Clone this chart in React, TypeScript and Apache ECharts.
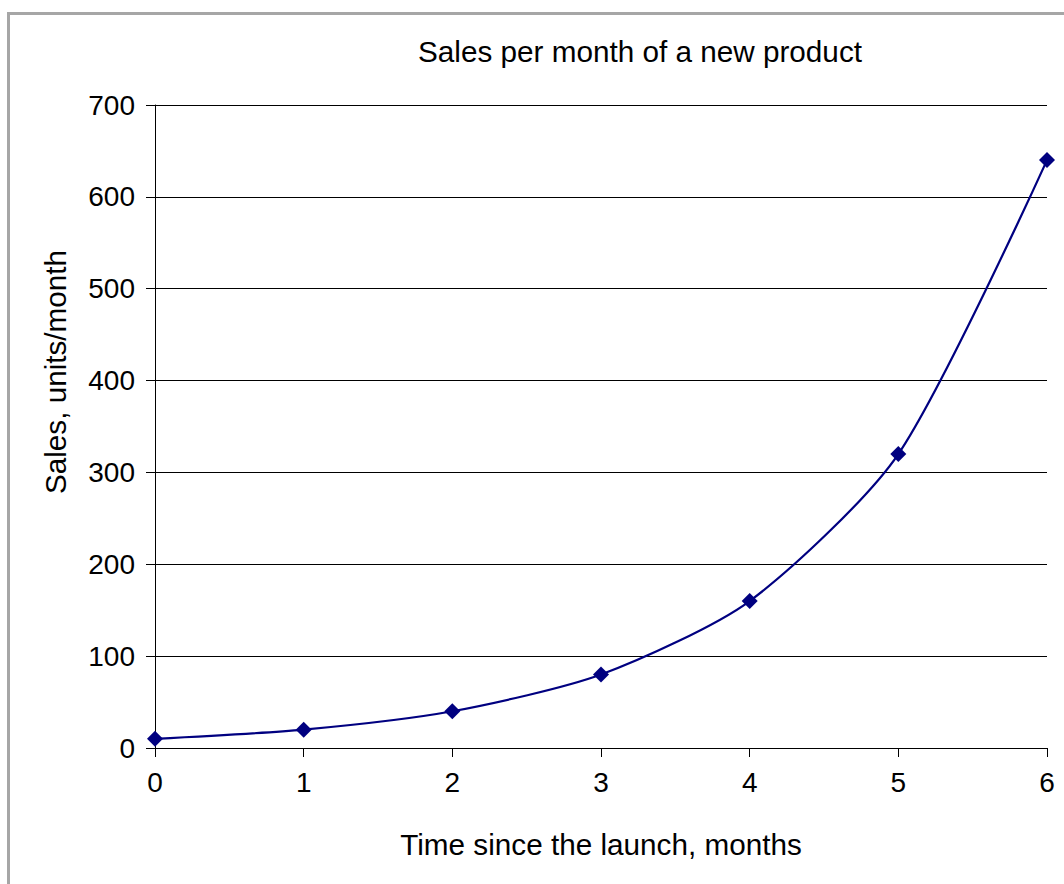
import React, { useEffect, useRef } from "react";
import * as echarts from "echarts";

const months = [0, 1, 2, 3, 4, 5, 6];
const sales = [10, 20, 40, 80, 160, 320, 640];
const title = "Sales per month of a new product";
const xName = "Time since the launch, months";
const yName = "Sales, units/month";

export default function App() {
  const ref = useRef<HTMLDivElement>(null);
  useEffect(() => {
    if (!ref.current) return;
    const chart = echarts.init(ref.current, null, { renderer: "svg" });
    const font = "'Liberation Sans', Arial, sans-serif";
    chart.setOption({
      animation: false,
      backgroundColor: "#ffffff",
      textStyle: { fontFamily: font },
      graphic: [
        {
          type: "rect",
          shape: { x: 8.5, y: 13.5, width: 1200, height: 1000 },
          style: { fill: "none", stroke: "#a6a6a6", lineWidth: 3 },
          silent: true,
        },
        {
          type: "text",
          x: 640,
          y: 51,
          style: {
            text: title,
            font: `29.7px ${font}`,
            fill: "#000",
            textAlign: "center",
            textVerticalAlign: "middle",
          },
        },
        {
          type: "text",
          x: 55,
          y: 372,
          rotation: Math.PI / 2,
          style: {
            text: yName,
            font: `29.7px ${font}`,
            fill: "#000",
            textAlign: "center",
            textVerticalAlign: "middle",
          },
        },
        {
          type: "text",
          x: 601,
          y: 844,
          style: {
            text: xName,
            font: `29.7px ${font}`,
            fill: "#000",
            textAlign: "center",
            textVerticalAlign: "middle",
          },
        },
      ],
      grid: { left: 155, right: 17, top: 105, bottom: 136 },
      xAxis: {
        type: "value",
        min: 0,
        max: 6,
        interval: 1,
        axisLine: { show: true, lineStyle: { color: "#000", width: 1 } },
        axisTick: { show: true, length: 9, lineStyle: { color: "#000" } },
        axisLabel: { color: "#000", fontSize: 28, margin: 20, fontFamily: font },
        splitLine: { show: false },
      },
      yAxis: {
        type: "value",
        min: 0,
        max: 700,
        interval: 100,
        axisLine: { show: true, lineStyle: { color: "#000", width: 1 } },
        axisTick: { show: true, length: 9, lineStyle: { color: "#000" } },
        axisLabel: { color: "#000", fontSize: 28, margin: 20, fontFamily: font },
        splitLine: { show: true, lineStyle: { color: "#000", width: 1 } },
      },
      series: [
        {
          type: "line",
          data: months.map((m, i) => [m, sales[i]]),
          smooth: 0.25,
          symbol: "diamond",
          symbolSize: 16,
          itemStyle: { color: "#000080" },
          lineStyle: { color: "#000080", width: 2.2 },
        },
      ],
    });
    return () => chart.dispose();
  }, []);
  return (
    <div
      ref={ref}
      style={{ position: "fixed", left: 0, top: 0, width: 1064, height: 884 }}
    />
  );
}
